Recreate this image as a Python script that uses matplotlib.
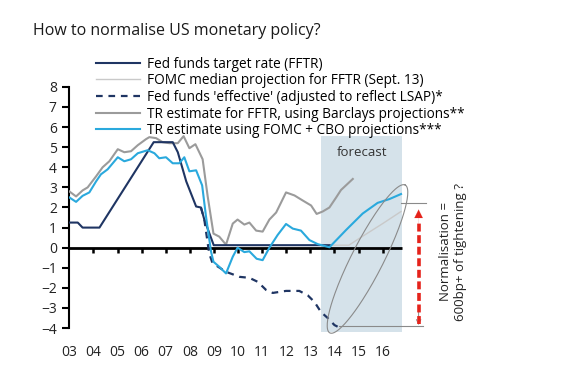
import numpy as np
import matplotlib
matplotlib.use("Agg")
import matplotlib.pyplot as plt

plt.rcParams['font.family'] = ['Open Sans', 'DejaVu Sans']

# ---------------- data ----------------
fftr_x = [2003.0, 2003.35, 2003.55, 2004.25, 2006.5, 2007.29, 2007.5, 2007.85,
          2008.26, 2008.46, 2008.6, 2008.99, 2013.8]
fftr_y = [1.25, 1.25, 1.0, 1.0, 5.25, 5.25, 4.75, 3.3, 2.05, 2.0, 1.4, 0.125, 0.125]

fomc_x = [2013.8, 2014.6, 2015.0, 2016.0, 2016.76]
fomc_y = [0.125, 0.125, 0.44, 1.2, 1.8]

eff_x = [2008.46, 2008.6, 2008.8, 2008.94, 2009.5, 2010.06, 2010.47, 2010.82,
         2011.16, 2011.44, 2011.99, 2012.54, 2012.89, 2013.17, 2013.44, 2013.72,
         2014.0, 2014.13]
eff_y = [2.0, 1.4, -0.27, -0.77, -1.2, -1.45, -1.5, -1.7, -2.1, -2.25, -2.15,
         -2.15, -2.37, -2.7, -3.2, -3.5, -3.85, -3.93]

barc_x = [2003.0, 2003.28, 2003.55, 2003.76, 2004.11, 2004.38, 2004.66, 2005.01,
          2005.28, 2005.56, 2005.84, 2006.18, 2006.32, 2006.6, 2006.87, 2007.15,
          2007.5, 2007.74, 2007.98, 2008.23, 2008.53, 2008.74, 2008.98, 2009.22,
          2009.5, 2009.78, 2009.98, 2010.26, 2010.47, 2010.75, 2011.02, 2011.3,
          2011.58, 2011.99, 2012.34, 2012.68, 2013.03, 2013.26, 2013.51, 2013.79,
          2014.07, 2014.27, 2014.76]
barc_y = [2.8, 2.55, 2.85, 3.0, 3.55, 4.0, 4.3, 4.9, 4.75, 4.8, 5.1, 5.4, 5.5,
          5.45, 5.25, 5.2, 5.2, 5.55, 4.95, 5.15, 4.4, 2.55, 0.7, 0.55, 0.15, 1.2,
          1.4, 1.15, 1.25, 0.85, 0.8, 1.4, 1.75, 2.75, 2.6, 2.35, 2.1, 1.68, 1.8,
          2.0, 2.5, 2.87, 3.42]

cbo_x = [2003.0, 2003.28, 2003.55, 2003.83, 2004.11, 2004.31, 2004.59, 2005.01,
         2005.28, 2005.56, 2005.84, 2006.25, 2006.53, 2006.73, 2007.01, 2007.29,
         2007.56, 2007.77, 2007.98, 2008.26, 2008.51, 2008.67, 2008.88, 2008.98,
         2009.22, 2009.5, 2009.78, 2009.98, 2010.26, 2010.47, 2010.77, 2011.02,
         2011.3, 2011.64, 2011.99, 2012.27, 2012.61, 2012.96, 2013.3, 2013.79,
         2014.48, 2015.17, 2015.79, 2016.28, 2016.76]
cbo_y = [2.5, 2.28, 2.58, 2.75, 3.3, 3.65, 3.9, 4.5, 4.3, 4.4, 4.7, 4.85, 4.7,
         4.45, 4.5, 4.2, 4.2, 4.5, 3.8, 3.85, 3.1, 1.55, -0.2, -0.7, -0.95, -1.28,
         -0.45, 0.0, -0.22, -0.18, -0.55, -0.62, 0.0, 0.63, 1.18, 0.95, 0.85, 0.38,
         0.18, 0.02, 0.88, 1.7, 2.23, 2.42, 2.67]

year_ticks = list(range(2003, 2017))
year_labels = ['03', '04', '05', '06', '07', '08', '09', '10', '11', '12', '13', '14', '15', '16']
y_ticks = [-4, -3, -2, -1, 0, 1, 2, 3, 4, 5, 6, 7, 8]

forecast_span = (2013.45, 2016.8)
top_level = 2.2
bottom_level = -3.9

labels = ["Fed funds target rate (FFTR)",
          "FOMC median projection for FFTR (Sept. 13)",
          "Fed funds 'effective' (adjusted to reflect LSAP)*",
          "TR estimate for FFTR, using Barclays projections**",
          "TR estimate using FOMC + CBO projections***"]

# ---------------- figure ----------------
NAVY = '#1f3563'
LGREY = '#c9c9c9'
GREY = '#9b9b9b'
BLUE = '#2aa9dd'
SHADE = '#d5e2ea'
RED = '#e5231b'

fig = plt.figure(figsize=(5.73, 3.75), dpi=100)
ax = fig.add_axes([0.121, 0.109, 0.631, 0.670])
ax.set_xlim(2003, 2018)
ax.set_ylim(-4.3, 8.2)

ax.axvspan(forecast_span[0], forecast_span[1], ymin=(-4.2 + 4.3) / 12.5,
           ymax=(5.55 + 4.3) / 12.5, color=SHADE, lw=0, zorder=0)
ax.text(sum(forecast_span) / 2, 4.75, 'forecast', ha='center', va='center',
        fontsize=9.5, color='#333333')

ax.plot([2003, forecast_span[1]], [0, 0], color='black', lw=2.0, zorder=2,
        solid_capstyle='butt')

l1, = ax.plot(fftr_x, fftr_y, color=NAVY, lw=1.5, zorder=4)
l2, = ax.plot(fomc_x, fomc_y, color=LGREY, lw=1.0, zorder=3)
l3, = ax.plot(eff_x, eff_y, color=NAVY, lw=1.6, ls=(0, (3, 2.6)), zorder=4)
l4, = ax.plot(barc_x, barc_y, color=GREY, lw=1.5, zorder=3)
l5, = ax.plot(cbo_x, cbo_y, color=BLUE, lw=1.5, zorder=5)

# x tick marks on zero line, labels at bottom
for xt in year_ticks[1:]:
    ax.plot([xt, xt], [0, -0.28], color='black', lw=1.8, zorder=2,
            solid_capstyle='butt')
for xt, lab in zip(year_ticks, year_labels):
    ax.text(xt, -5.22, lab, ha='center', va='center', fontsize=10,
            color='#222222', clip_on=False)

# y axis
ax.spines[['top', 'right', 'bottom']].set_visible(False)
ax.spines['left'].set_bounds(-4, 8)
ax.spines['left'].set_linewidth(1.5)
ax.set_xticks([])
ax.set_yticks(y_ticks)
ax.tick_params(axis='y', length=5, width=1.5, labelsize=10, labelcolor='#222222',
               pad=4)

# annotation lines
ax.plot([2016.76, 2017.8], [top_level, top_level], color='#8a8a8a', lw=0.8,
        zorder=3, clip_on=False)
ax.plot([2014.2, 2017.66], [bottom_level, bottom_level], color='#8a8a8a',
        lw=0.8, zorder=3, clip_on=False)

# red arrow
xa = 2017.49
ax.plot([xa, xa], [-3.8, 1.35], color=RED, lw=2.6, ls=(0, (2.2, 1.0)),
        zorder=6)
ax.annotate('', xy=(xa, 1.9), xytext=(xa, 1.2),
            arrowprops=dict(arrowstyle='-|>', color=RED, lw=0.1,
                            mutation_scale=15, shrinkA=0, shrinkB=0), zorder=6)
ax.annotate('', xy=(xa, -3.85), xytext=(xa, -3.2),
            arrowprops=dict(arrowstyle='->', color='#8a8a8a', lw=0.7,
                            mutation_scale=8, shrinkA=0, shrinkB=0), zorder=5)

ax.text(2018.9, -0.2, 'Normalisation =\n600bp+ of tightening ?', rotation=90,
        ha='center', va='center', fontsize=9.5, color='#222222',
        multialignment='center', clip_on=False, linespacing=1.2)

# ellipse drawn in display space
fig.canvas.draw()
cx, cy = ax.transData.transform((2015.37, -0.56))
t = np.linspace(0, 2 * np.pi, 200)
a, b, ang = 83.0, 16.0, np.deg2rad(63)
px = cx + a * np.cos(t) * np.cos(ang) - b * np.sin(t) * np.sin(ang)
py = cy + a * np.cos(t) * np.sin(ang) + b * np.sin(t) * np.cos(ang)
pts = ax.transData.inverted().transform(np.column_stack([px, py]))
ax.plot(pts[:, 0], pts[:, 1], color='#8a8a8a', lw=0.8, zorder=6, clip_on=False)

fig.text(0.058, 0.918, 'How to normalise US monetary policy?', fontsize=11.5,
         color='#1a1a1a', ha='left', va='center')

fig.legend([l1, l2, l3, l4, l5], labels, loc='upper left',
           bbox_to_anchor=(0.168, 0.849), frameon=False, fontsize=9.8,
           handlelength=3.2, handletextpad=0.5, labelspacing=0.12,
           borderpad=0, borderaxespad=0)

fig.savefig('out.png', dpi=100, facecolor='white')
